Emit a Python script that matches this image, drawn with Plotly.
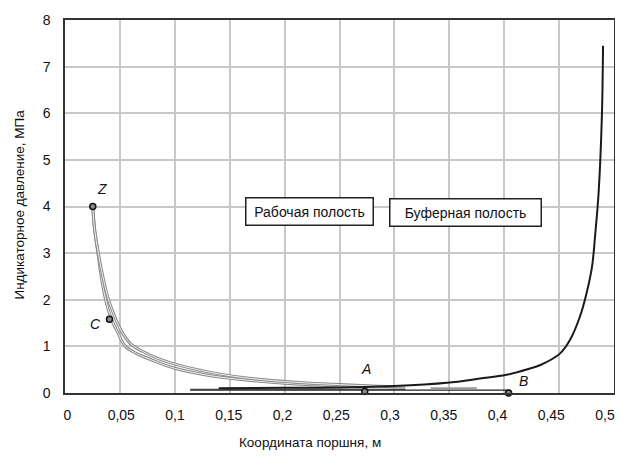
import plotly.graph_objects as go

# Working cavity (gray double curves)
work_exp_x = [0.0253, 0.027, 0.030, 0.033, 0.037, 0.042, 0.048, 0.055, 0.065, 0.082, 0.100, 0.130, 0.160, 0.200, 0.240, 0.270]
work_exp_y = [4.00, 3.50, 3.00, 2.50, 2.00, 1.60, 1.30, 1.00, 0.85, 0.68, 0.53, 0.38, 0.29, 0.21, 0.16, 0.13]
work_cmp_x = [0.0253, 0.027, 0.030, 0.034, 0.039, 0.046, 0.052, 0.060, 0.070, 0.087, 0.108, 0.140, 0.170, 0.210, 0.250, 0.280, 0.310]
work_cmp_y = [4.00, 3.50, 3.05, 2.55, 2.05, 1.60, 1.30, 1.05, 0.90, 0.72, 0.57, 0.41, 0.31, 0.23, 0.18, 0.15, 0.13]
work_low_x = [0.114, 0.310]
work_low_y = [0.08, 0.08]

# Buffer cavity (black curve)
buf_x = [0.140, 0.200, 0.250, 0.300, 0.348, 0.378, 0.402, 0.424, 0.433, 0.451, 0.460, 0.469, 0.475, 0.480, 0.483, 0.486, 0.489, 0.490]
buf_y = [0.10, 0.11, 0.12, 0.15, 0.22, 0.31, 0.39, 0.53, 0.60, 0.85, 1.14, 1.64, 2.14, 2.71, 3.43, 4.30, 5.97, 7.45]
buf_low_x = [0.114, 0.405]
buf_low_y = [0.06, 0.06]
buf_gray_x = [0.333, 0.375]
buf_gray_y = [0.10, 0.10]

# Marked points
pt_names = ["Z", "C", "A", "B"]
pt_x = [0.0253, 0.0405, 0.273, 0.404]
pt_y = [4.00, 1.58, 0.03, 0.00]
lbl_x = [0.034, 0.0275, 0.274, 0.418]
lbl_y = [4.37, 1.48, 0.52, 0.26]

x_ticks = [0, 0.05, 0.1, 0.15, 0.2, 0.25, 0.3, 0.35, 0.4, 0.45, 0.5]
x_tick_text = ["0", "0,05", "0,1", "0,15", "0,2", "0,25", "0,3", "0,35", "0,4", "0,45", "0,5"]
y_ticks = [0, 1, 2, 3, 4, 5, 6, 7, 8]
y_tick_text = ["0", "1", "2", "3", "4", "5", "6", "7", "8"]

FONT = "Liberation Sans, Arial, sans-serif"

fig = go.Figure()

def add_double(x, y):
    fig.add_trace(go.Scatter(x=x, y=y, mode="lines", line=dict(color="#8a8a8a", width=3, shape="spline"),
                             hoverinfo="skip", showlegend=False))
    fig.add_trace(go.Scatter(x=x, y=y, mode="lines", line=dict(color="#f2f2f2", width=1, shape="spline"),
                             hoverinfo="skip", showlegend=False))

add_double(work_exp_x, work_exp_y)
add_double(work_cmp_x, work_cmp_y)

fig.add_trace(go.Scatter(x=work_low_x, y=work_low_y, mode="lines", line=dict(color="#333333", width=1.2),
                         showlegend=False))
fig.add_trace(go.Scatter(x=buf_low_x, y=buf_low_y, mode="lines", line=dict(color="#222222", width=1.2),
                         showlegend=False))
fig.add_trace(go.Scatter(x=buf_gray_x, y=buf_gray_y, mode="lines", line=dict(color="#9a9a9a", width=2),
                         showlegend=False))
fig.add_trace(go.Scatter(x=buf_x, y=buf_y, mode="lines", line=dict(color="#1a1a1a", width=2, shape="spline"),
                         showlegend=False))

fig.add_trace(go.Scatter(x=pt_x, y=pt_y, mode="markers",
                         marker=dict(size=6, color="#888888", line=dict(color="#111111", width=1.5)),
                         showlegend=False, cliponaxis=False))

# invisible trace on the label axis so it is drawn
fig.add_trace(go.Scatter(x=[0], y=[0], xaxis="x2", mode="markers", marker=dict(opacity=0),
                         hoverinfo="skip", showlegend=False))

for n, x, y in zip(pt_names, lbl_x, lbl_y):
    fig.add_annotation(x=x, y=y, text="<i>" + n + "</i>", showarrow=False,
                       font=dict(family=FONT, size=14, color="#111111"))

fig.add_annotation(x=0.223, y=3.9, text="Рабочая полость", showarrow=False,
                   font=dict(family=FONT, size=14, color="#111111"),
                   bgcolor="white", bordercolor="#222222", borderwidth=1.5,
                   width=124, height=24)
fig.add_annotation(x=0.365, y=3.88, text="Буферная полость", showarrow=False,
                   font=dict(family=FONT, size=14, color="#111111"),
                   bgcolor="white", bordercolor="#222222", borderwidth=1.5,
                   width=148, height=24)

fig.add_annotation(xref="paper", yref="paper", x=0.4468, y=(385 - 434) / 373,
                   xanchor="center", yanchor="middle",
                   text="Координата поршня, м", showarrow=False,
                   font=dict(family=FONT, size=13.5, color="#111111"))
fig.add_annotation(xref="paper", yref="paper", x=-0.0846, y=0.504,
                   xanchor="center", yanchor="middle",
                   text="Индикаторное давление, МПа", showarrow=False, textangle=-90,
                   font=dict(family=FONT, size=13.5, color="#111111"))

fig.update_layout(
    width=615, height=449,
    margin=dict(l=56.5, r=9, t=12, b=64, autoexpand=False),
    plot_bgcolor="white", paper_bgcolor="white",
    font=dict(family=FONT, size=14, color="#111111"),
    showlegend=False,
    xaxis=dict(range=[0, 0.5], tickvals=x_ticks, showticklabels=False,
               showgrid=True, gridcolor="#c8c8c8", gridwidth=1.5,
               showline=True, linecolor="#333333", linewidth=1.5, mirror=True,
               zeroline=False, ticks="", automargin=False),
    xaxis2=dict(range=[-2.5 / 1076, -2.5 / 1076 + 549.5 / 1076], overlaying="x", side="bottom",
                anchor="y", tickvals=x_ticks, ticktext=x_tick_text, showgrid=False, zeroline=False,
                showline=False, ticks="", tickfont=dict(size=14), automargin=False,
                ticklabelstandoff=12),
    yaxis=dict(range=[0, 8], tickvals=y_ticks, ticktext=y_tick_text,
               showgrid=True, gridcolor="#c8c8c8", gridwidth=1.5,
               showline=True, linecolor="#333333", linewidth=1.5, mirror=True,
               zeroline=False, ticks="", tickfont=dict(size=14), automargin=False,
               ticklabelstandoff=10),
)

fig.write_html("out.html")
